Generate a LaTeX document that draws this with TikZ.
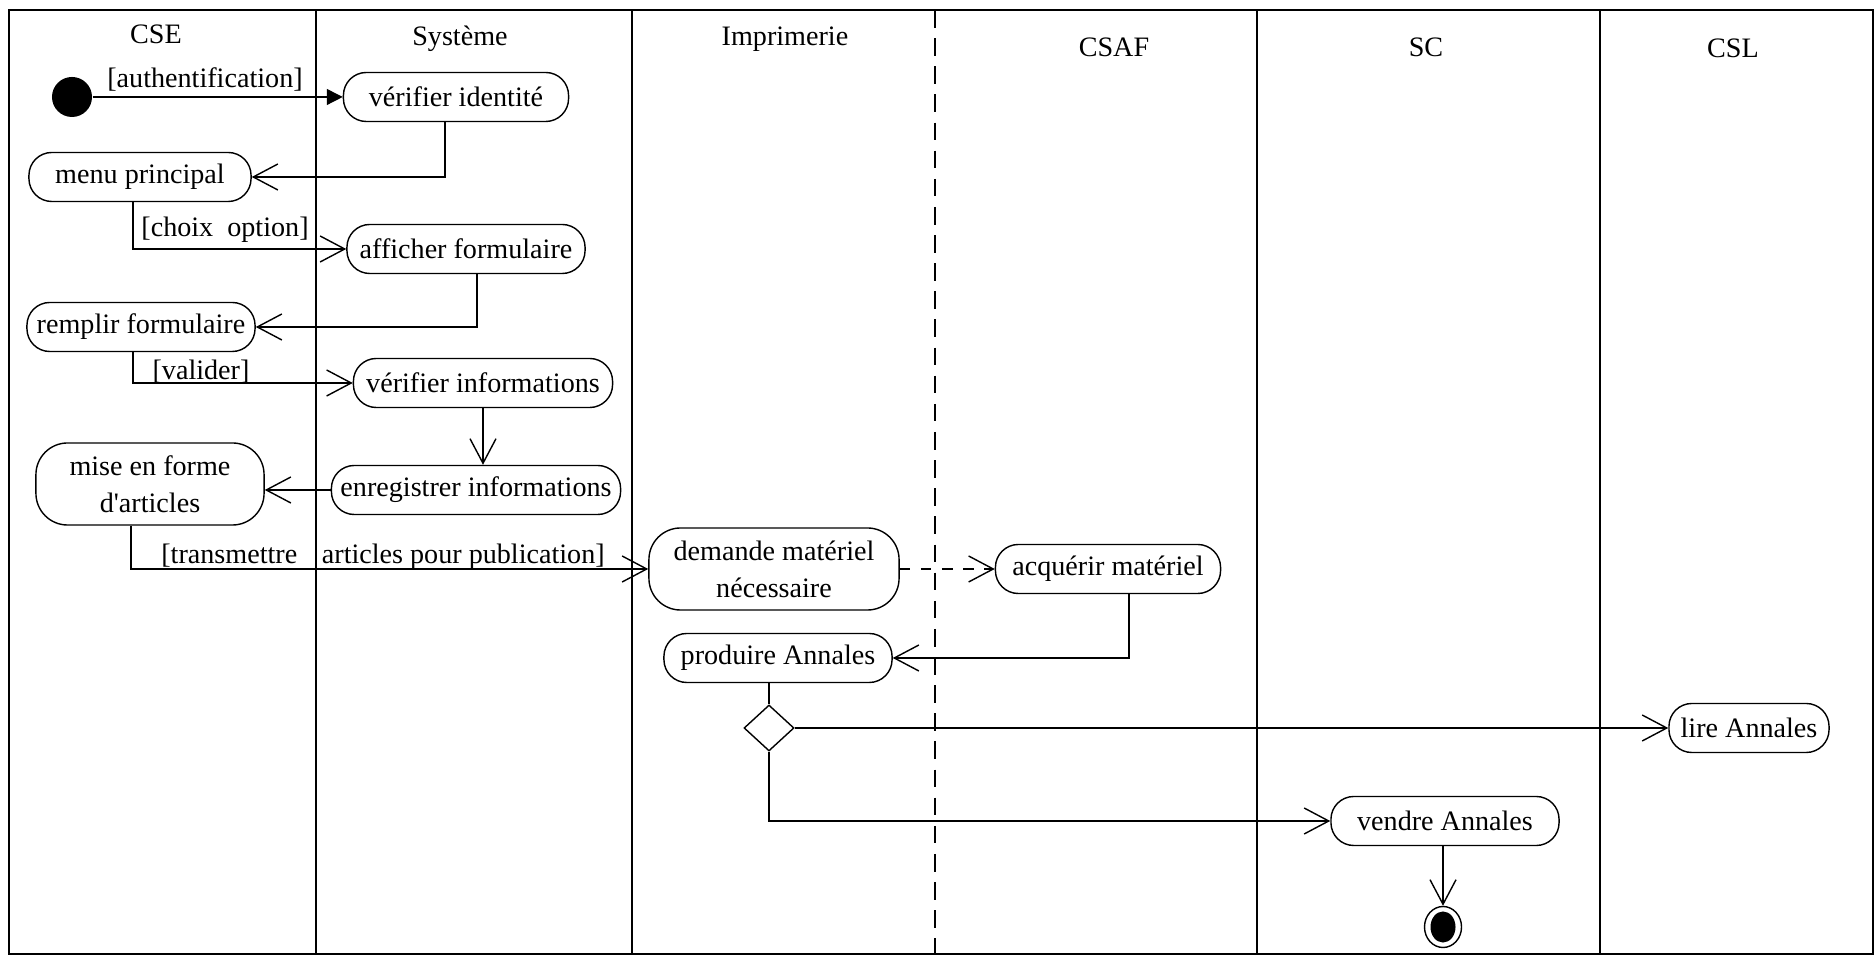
\documentclass[tikz,border=0pt]{standalone}
\usepackage{fontspec}
\setmainfont{Liberation Serif}
\usepackage{tikz}
\usetikzlibrary{arrows.meta, shapes.geometric}
\tikzset{
  act/.style={rectangle,rounded corners=6.5pt,draw,align=center,inner sep=2pt,
    minimum height=0.49cm,line width=0.4pt},
  tall/.style={act,rounded corners=9pt,minimum height=0.82cm},
  head/.style={anchor=base,inner sep=0pt},
  guard/.style={inner sep=1pt},
  lane/.style={line width=0.4pt},
  ar/.style={-{Straight Barb[length=7pt,width=7.4pt]},line width=0.4pt},
  arfill/.style={-{Triangle[length=4.5pt,width=4.5pt]},line width=0.4pt}
}

\begin{document}
\begin{tikzpicture}[x=0.01cm,y=-0.01cm,font=\fontsize{8pt}{10.5pt}\selectfont]
\useasboundingbox (0,0) rectangle (1876,962);
\draw[lane] (9,10) rectangle (1873,954);
\draw[lane] (316,10) -- (316,954);
\draw[lane] (632,10) -- (632,954);
\draw[lane,dash pattern=on 5pt off 3pt] (935,10) -- (935,954);
\draw[lane] (1257,10) -- (1257,954);
\draw[lane] (1600,10) -- (1600,954);

\node[head] (hcse) at (156,44) {CSE};
\node[head] (hsys) at (460,46) {Système};
\node[head] (himp) at (785,46) {Imprimerie};
\node[head] (hcsaf) at (1114,57) {CSAF};
\node[head] (hsc) at (1426,57) {SC};
\node[head] (hcsl) at (1733,58) {CSL};

\node[circle,fill,inner sep=0pt,minimum size=0.4cm] (start) at (72,97) {};
\node[act,minimum width=2.25cm] (vid) at (456,97) {vérifier identité};
\node[act,minimum width=2.22cm] (menu) at (140,177) {menu principal};
\node[act,minimum width=2.38cm] (aff) at (466,249) {afficher formulaire};
\node[act,minimum width=2.28cm] (rempl) at (141,327) {remplir formulaire};
\node[act,minimum width=2.59cm] (vinf) at (483,383) {vérifier informations};
\node[act,minimum width=2.89cm] (enreg) at (476,490) {enregistrer informations};
\node[tall,minimum width=2.28cm] (mise) at (150,484) {mise en forme\\d\textquotesingle articles};
\node[tall,minimum width=2.50cm] (dem) at (774,569) {demande matériel\\nécessaire};
\node[act,minimum width=2.25cm] (acq) at (1108,569) {acquérir matériel};
\node[act,minimum width=2.28cm] (prod) at (778,658) {produire Annales};
\node[diamond,draw,inner sep=0pt,minimum width=0.5cm,minimum height=0.46cm,
  line width=0.4pt] (dia) at (769,728) {};
\node[act,minimum width=1.60cm] (lire) at (1749,728) {lire Annales};
\node[act,minimum width=2.28cm] (vend) at (1445,821) {vendre Annales};
\node[ellipse,draw,inner sep=0pt,minimum width=0.37cm,minimum height=0.41cm,
  line width=0.4pt] (fin) at (1443,927) {};
\node[ellipse,fill,inner sep=0pt,minimum width=0.25cm,minimum height=0.31cm] (finin) at (fin) {};

\node[guard] (gauth) at (205,79) {[authentification]};
\node[guard] (gchoix) at (225,230) {[choix~ option]};
\node[guard] (gval) at (201,372) {[valider]};
\node[guard] (gtrans) at (383,557) {[transmettre\hspace{5pt} articles pour publication]};

\draw[arfill] (start) -- (vid);
\draw[ar] ([xshift=-0.11cm]vid.south) |- (menu.east);
\draw[ar] ([xshift=-0.07cm]menu.south) |- (aff.west);
\draw[ar] ([xshift=0.11cm]aff.south) |- (rempl.east);
\draw[ar] ([xshift=-0.08cm]rempl.south) |- (vinf.west);
\draw[ar] (vinf.south) -- (vinf.south |- enreg.north);
\draw[ar] (enreg.west) -- (enreg.west -| mise.east);
\draw[ar] ([xshift=-0.19cm]mise.south) |- (dem.west);
\draw[ar,dashed] (dem.east) -- (acq.west);
\draw[ar] ([xshift=0.21cm]acq.south) |- (prod.east);
\draw[line width=0.4pt] (dia.north |- prod.south) -- (dia.north);
\draw[ar] (dia.east) -- (lire.west);
\draw[ar] (dia.south) |- (vend.west);
\draw[ar] (vend.south -| fin.north) -- (fin.north);
\end{tikzpicture}
\end{document}
